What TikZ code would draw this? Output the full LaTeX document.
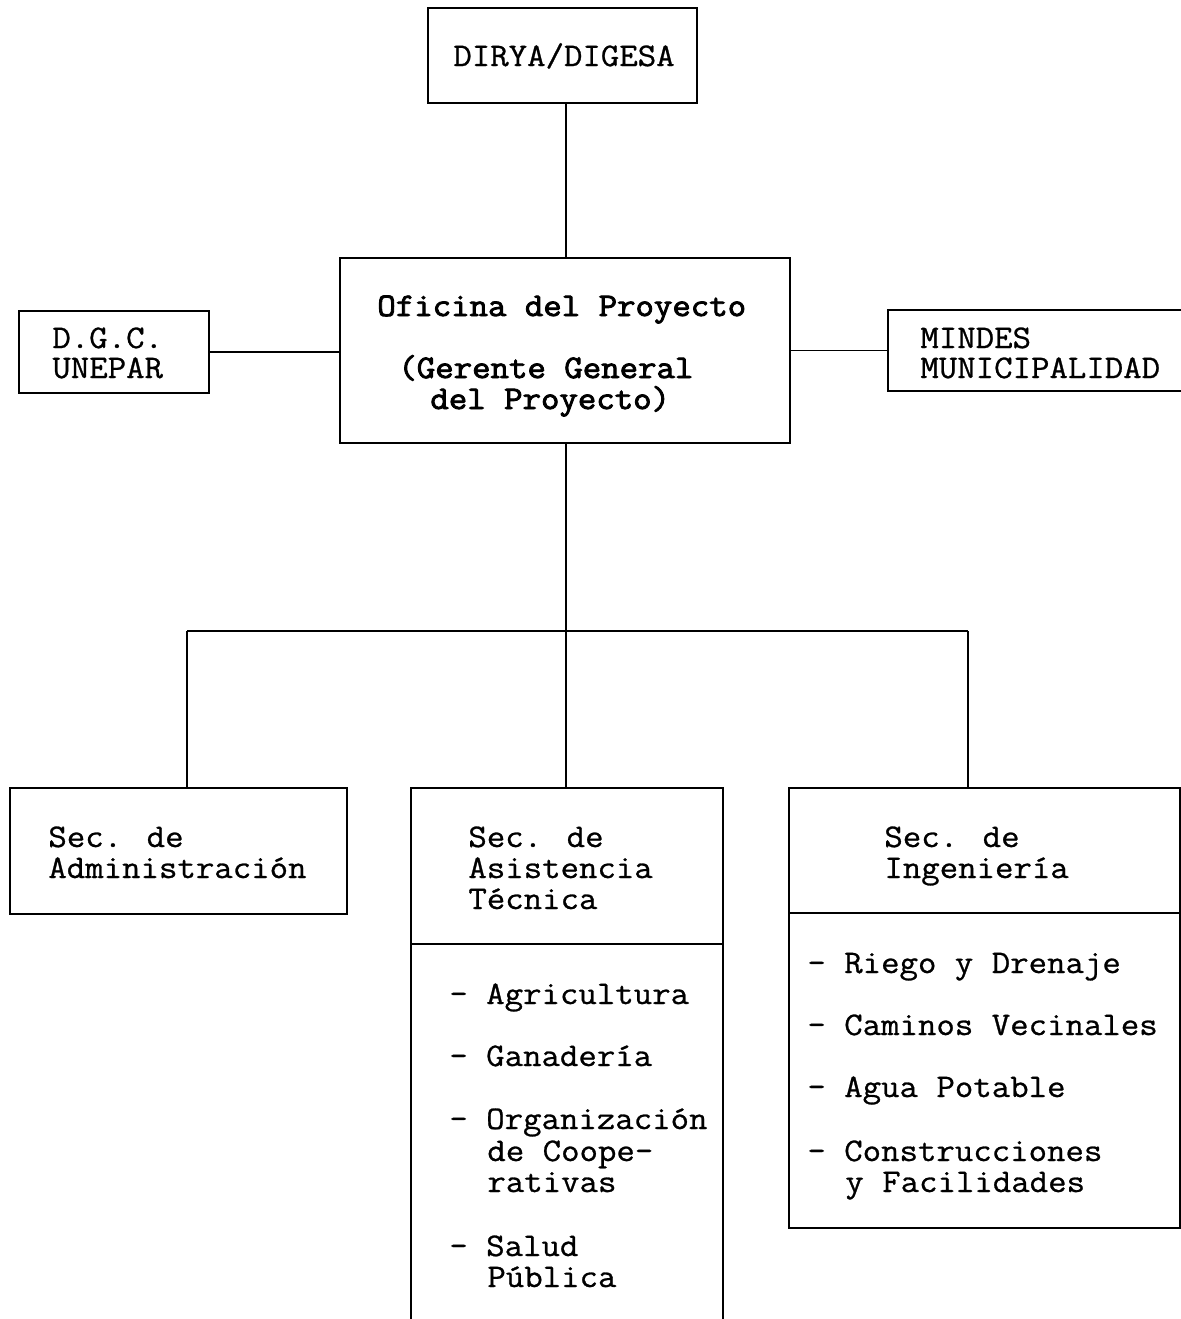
\documentclass[tikz,border=0pt]{standalone}
\usepackage{fontspec}
\newfontfamily\cour{Latin Modern Mono}[FakeStretch=1.085, FakeBold=0.8]
\newfontfamily\courb{Latin Modern Mono}[FakeStretch=1.085, FakeBold=2.6]
\begin{document}
\begin{tikzpicture}[x=0.5pt,y=-0.5pt,
  box/.style={draw, line width=1pt, rectangle, inner sep=0pt},
  txt/.style={anchor=base west, inner sep=0pt, font=\cour\fontsize{16.5}{18}\selectfont},
  btxt/.style={txt, font=\courb\fontsize{16.5}{18}\selectfont},
  conn/.style={line width=0.8pt}]
\useasboundingbox (0,0) rectangle (1181,1319);
\clip (0,0) rectangle (1181,1319);
\fill[white] (0,0) rectangle (1181,1319);

% boxes
\node[box, minimum width=134.5pt, minimum height=47.5pt] (dirya) at (562.5,55.5) {};
\node[box, minimum width=225pt, minimum height=92.5pt] (ofi) at (565,350.5) {};
\node[box, minimum width=95pt, minimum height=41pt] (dgc) at (114,352) {};
\node[box, minimum width=151pt, minimum height=40.5pt] (mindes) at (1039,350.5) {};
\node[box, minimum width=168.5pt, minimum height=63pt] (adm) at (178.5,851) {};
\node[box, minimum width=156pt, minimum height=271pt] (asi) at (567,1059) {};
\node[box, minimum width=195.5pt, minimum height=220pt] (ing) at (984.5,1008) {};

% dividers
\draw[line width=1pt] (asi.west |- 0,944) -- (asi.east |- 0,944);
\draw[line width=1pt] (ing.west |- 0,913) -- (ing.east |- 0,913);

% texts
\node[txt] (t1) at (453,66) {DIRYA/DIGESA};
\node[btxt] (t2) at (377,316) {Oficina del Proyecto};
\node[btxt] (t3) at (398,378) {(Gerente General};
\node[btxt] (t4) at (430,409) {del Proyecto)};
\node[txt] (t5) at (52,348) {D.G.C.};
\node[txt] (t6) at (52,378) {UNEPAR};
\node[txt] (t7) at (920,348) {MINDES};
\node[txt] (t8) at (920,378) {MUNICIPALIDAD};
\node[txt] (t9) at (48,847) {Sec. de};
\node[txt] (t10) at (48,878) {Administración};
\node[txt] (t11) at (468,847) {Sec. de};
\node[txt] (t12) at (468,878) {Asistencia};
\node[txt] (t13) at (468,909) {Técnica};
\node[txt] (a1) at (449,1004) {- Agricultura};
\node[txt] (a2) at (449,1066) {- Ganadería};
\node[txt] (a3) at (449,1129) {- Organización};
\node[txt] (a4) at (487,1161) {de Coope-};
\node[txt] (a5) at (487,1192) {rativas};
\node[txt] (a6) at (449,1256) {- Salud};
\node[txt] (a7) at (487,1287) {Pública};
\node[txt] (t14) at (884,847) {Sec. de};
\node[txt] (t15) at (884,878) {Ingeniería};
\node[txt] (i1) at (807,973) {- Riego y Drenaje};
\node[txt] (i2) at (807,1035) {- Caminos Vecinales};
\node[txt] (i3) at (807,1097) {- Agua Potable};
\node[txt] (i4) at (807,1161) {- Construcciones};
\node[txt] (i5) at (845,1192) {y Facilidades};

% connectors
\coordinate (j1) at (187,631);
\coordinate (j2) at (566,631);
\coordinate (j3) at (968,631);
\draw[conn] (ofi.north -| j2) -- (dirya.south -| j2);
\draw[conn] (dgc.east) -- (dgc.east -| ofi.west);
\draw[conn] (ofi.east |- mindes.west) -- (mindes.west);
\draw[conn] (ofi.south -| j2) -- (j2);
\draw[conn] (j1) -- (j3);
\draw[conn] (j1) -- (j1 |- adm.north);
\draw[conn] (j2) -- (j2 |- asi.north);
\draw[conn] (j3) -- (j3 |- ing.north);
\end{tikzpicture}
\end{document}
